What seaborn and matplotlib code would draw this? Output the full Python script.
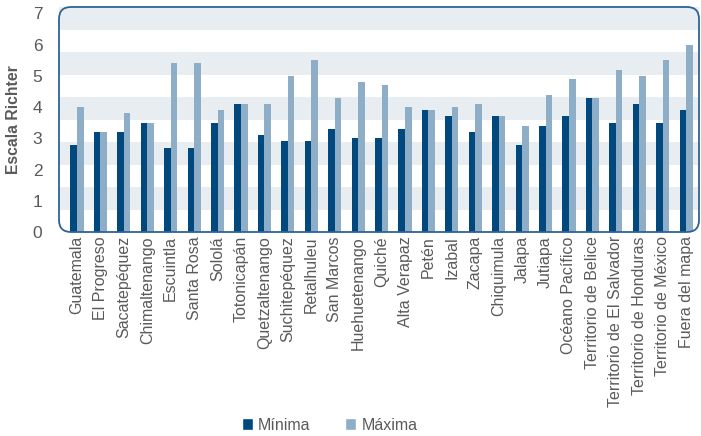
import pandas as pd
import matplotlib
matplotlib.use("Agg")
import matplotlib.pyplot as plt
import seaborn as sns
from matplotlib.patches import FancyBboxPatch, Patch

# Magnitudes (escala Richter) por departamento / zona
zonas = [
    "Guatemala", "El Progreso", "Sacatepéquez", "Chimaltenango", "Escuintla",
    "Santa Rosa", "Sololá", "Totonicapán", "Quetzaltenango", "Suchitepéquez",
    "Retalhuleu", "San Marcos", "Huehuetenango", "Quiché", "Alta Verapaz",
    "Petén", "Izabal", "Zacapa", "Chiquimula", "Jalapa", "Jutiapa",
    "Océano Pacífico", "Territorio de Belice", "Territorio de El Salvador",
    "Territorio de Honduras", "Territorio de México", "Fuera del mapa",
]
minima = [2.8, 3.2, 3.2, 3.5, 2.7, 2.7, 3.5, 4.1, 3.1, 2.9, 2.9, 3.3, 3.0, 3.0,
          3.3, 3.9, 3.7, 3.2, 3.7, 2.8, 3.4, 3.7, 4.3, 3.5, 4.1, 3.5, 3.9]
maxima = [4.0, 3.2, 3.8, 3.5, 5.4, 5.4, 3.9, 4.1, 4.1, 5.0, 5.5, 4.3, 4.8, 4.7,
          4.0, 3.9, 4.0, 4.1, 3.7, 3.4, 4.4, 4.9, 4.3, 5.2, 5.0, 5.5, 6.0]
series = ["Mínima", "Máxima"]

df = pd.DataFrame({"Zona": zonas * 2,
                   "Serie": [series[0]] * len(zonas) + [series[1]] * len(zonas),
                   "Valor": minima + maxima})

dark = "#00487e"
light = "#8eadc7"
band = "#e8edf2"
frame = "#2d6398"
grey_txt = "#5a5a5a"

sns.set_style("white")
plt.rcParams["font.family"] = ["Liberation Sans", "DejaVu Sans"]

fig = plt.figure(figsize=(7.01, 4.36), dpi=100)
ax = fig.add_axes([59 / 701, 1 - 232 / 436, 640 / 701, 225 / 436])

ymax = 7.2
# alternating horizontal bands
step = ymax / 10
for k in range(1, 10, 2):
    ax.axhspan(k * step, (k + 1) * step, color=band, lw=0, zorder=0)

sns.barplot(data=df, x="Zona", y="Valor", hue="Serie", hue_order=series,
            palette=[dark, light], width=0.56, gap=0, saturation=1,
            edgecolor="none", legend=False, ax=ax, zorder=2)

ax.set_ylim(0, ymax)
ax.set_xlim(-0.77, len(zonas) - 0.45)
ax.set_yticks(range(0, 8))
ax.set_yticklabels([str(i) for i in range(0, 8)], fontsize=12.5, color=grey_txt)
ax.set_xticks(range(len(zonas)))
ax.set_xticklabels(zonas, rotation=90, fontsize=11.5, color=grey_txt)
ax.tick_params(axis="both", length=0)
ax.tick_params(axis="x", pad=3)
ax.tick_params(axis="y", pad=12)
ax.set_xlabel("")
ax.set_ylabel("Escala Richter", fontsize=11.3, fontweight="bold", color=grey_txt, labelpad=8)
for s in ax.spines.values():
    s.set_visible(False)

# rounded frame around the plot area
w_px, h_px = 640, 225
r = 12
box = FancyBboxPatch((0, 0), 1, 1, boxstyle=f"round,pad=0,rounding_size={r / w_px}",
                     mutation_aspect=w_px / h_px, transform=ax.transAxes,
                     facecolor="none", edgecolor=frame, lw=1.3, zorder=5, clip_on=False)
ax.add_patch(box)

handles = [Patch(facecolor=dark, label=series[0]), Patch(facecolor=light, label=series[1])]
fig.legend(handles=handles, loc="center", bbox_to_anchor=(0.47, 0.025), ncol=2,
           frameon=False, fontsize=11.5, handlelength=0.7, handleheight=0.7,
           handletextpad=0.3, columnspacing=2.2, labelcolor=grey_txt)

fig.savefig("out.png", dpi=100)
